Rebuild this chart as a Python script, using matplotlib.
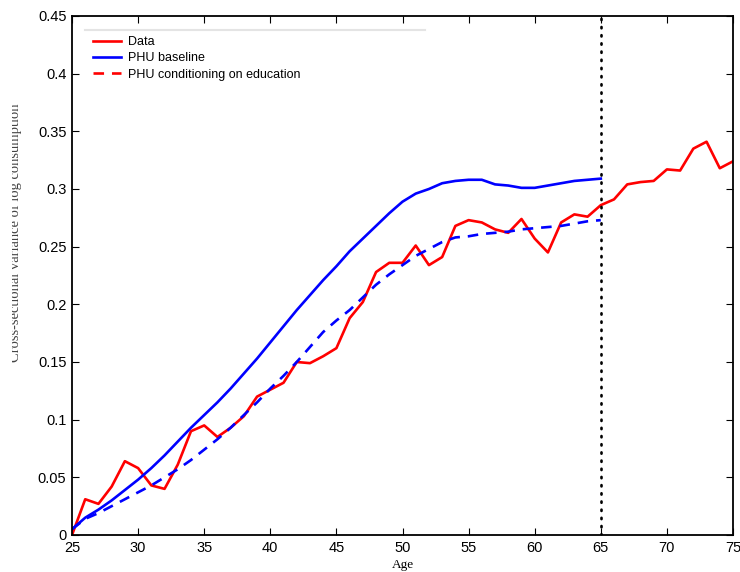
import numpy as np
import matplotlib
matplotlib.use('Agg')
import matplotlib.pyplot as plt
from matplotlib.lines import Line2D
from matplotlib.patches import Rectangle

age = np.arange(25, 76)
age_model = np.arange(25, 66)

# cross-sectional variance of log consumption, ages 25-75
data = [0.000, 0.031, 0.027, 0.042, 0.064, 0.058, 0.043, 0.040, 0.061, 0.090,
        0.095, 0.085, 0.093, 0.103, 0.120, 0.126, 0.132, 0.150, 0.149, 0.155,
        0.162, 0.188, 0.202, 0.228, 0.236, 0.236, 0.251, 0.234, 0.241, 0.268,
        0.273, 0.271, 0.265, 0.262, 0.274, 0.257, 0.245, 0.271, 0.278, 0.276,
        0.286, 0.291, 0.304, 0.306, 0.307, 0.317, 0.316, 0.335, 0.341, 0.318,
        0.324]

# model predictions, ages 25-65
phu_base = [0.005, 0.015, 0.022, 0.030, 0.039, 0.048, 0.058, 0.069, 0.081, 0.093,
            0.104, 0.115, 0.127, 0.140, 0.153, 0.167, 0.181, 0.195, 0.208, 0.221,
            0.233, 0.246, 0.257, 0.268, 0.279, 0.289, 0.296, 0.300, 0.305, 0.307,
            0.308, 0.308, 0.304, 0.303, 0.301, 0.301, 0.303, 0.305, 0.307, 0.308,
            0.309]
phu_educ = [0.005, 0.014, 0.019, 0.025, 0.031, 0.037, 0.043, 0.050, 0.057, 0.065,
            0.074, 0.083, 0.093, 0.104, 0.115, 0.127, 0.138, 0.150, 0.163, 0.176,
            0.186, 0.195, 0.206, 0.217, 0.226, 0.234, 0.242, 0.248, 0.254, 0.258,
            0.259, 0.261, 0.262, 0.263, 0.265, 0.266, 0.267, 0.268, 0.270, 0.272,
            0.273]

retire_age = 65

fig = plt.figure(figsize=(7.4, 5.72), dpi=100)
ax = fig.add_axes([72/740, 37/572, 661/740, 519/572])

ax.plot(age, data, color='red', lw=1.9)
ax.plot(age_model, phu_base, color='blue', lw=1.9)
ax.plot(age_model, phu_educ, color='blue', lw=1.9, ls=(0, (4, 3)))
ax.axvline(retire_age, color='black', lw=1.9, ls=(0, (0.5, 2.6)), dash_capstyle='round')

ax.set_xlim(25, 75)
ax.set_ylim(0, 0.45)
ax.set_xticks(np.arange(25, 76, 5))
ax.set_yticks(np.arange(0, 0.451, 0.05))
ax.set_yticklabels(['0', '0.05', '0.1', '0.15', '0.2', '0.25', '0.3', '0.35', '0.4', '0.45'])
ax.tick_params(direction='in', top=True, right=True, length=5, width=0.8,
               labelsize=10.5, pad=4)
for lbl in ax.get_xticklabels() + ax.get_yticklabels():
    lbl.set_family('Liberation Sans')
for sp in ax.spines.values():
    sp.set_linewidth(1.3)

ax.set_xlabel('Age', family='Liberation Serif', fontsize=9.5, labelpad=3)

fig.text(15/740, 1 - 233/572, 'Cross-sectional variance of log consumption',
         family='Liberation Serif', fontsize=10.5, rotation=90,
         ha='center', va='center', color='#444444', zorder=3)
# the left edge of the label runs under a blank margin strip
fig.patches.append(Rectangle((0, 0), 12/740, 1, transform=fig.transFigure,
                             facecolor='white', edgecolor='none', zorder=5))

handles = [Line2D([], [], color='red', lw=1.9),
           Line2D([], [], color='blue', lw=1.9),
           Line2D([], [], color='red', lw=1.9, ls=(0, (4, 3)))]
labels = ['Data', 'PHU baseline', 'PHU conditioning on education']
ax.legend(handles, labels, loc='upper left', bbox_to_anchor=(0.015, 0.983),
          frameon=False, handlelength=2.2, handletextpad=0.6,
          labelspacing=0.35, prop={'family': 'Liberation Sans', 'size': 9})
ax.plot([13/661, 353/661], [0.973, 0.973], transform=ax.transAxes,
        color='#e4e4e4', lw=1.5, clip_on=False)

fig.savefig('out.png', dpi=100)
